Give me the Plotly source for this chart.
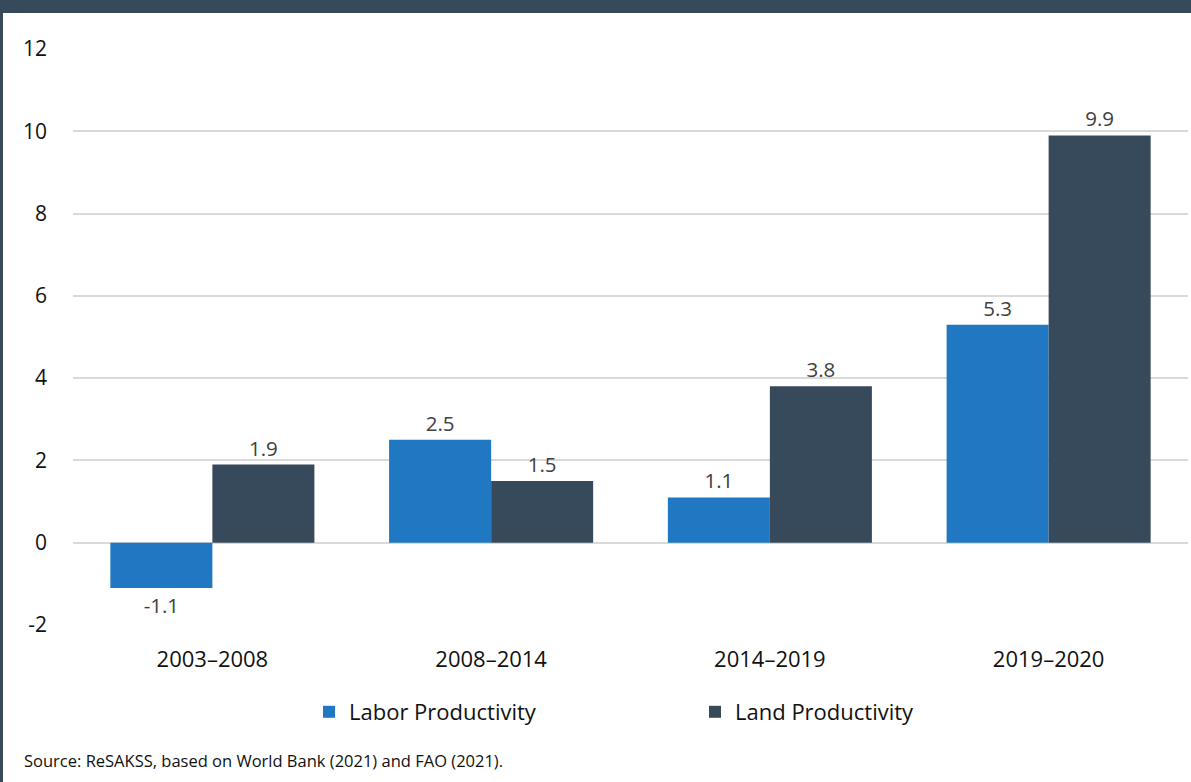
import plotly.graph_objects as go

# Growth rates by period (%)
periods = ["2003–2008", "2008–2014", "2014–2019", "2019–2020"]
labor_productivity = [-1.1, 2.5, 1.1, 5.3]
land_productivity = [1.9, 1.5, 3.8, 9.9]
y_ticks = [-2, 0, 2, 4, 6, 8, 10, 12]

BLUE = "#1f78c1"
DARK = "#374a5c"
FONT = "Open Sans, Noto Sans, sans-serif"

W, H = 1191, 782
ML, MR, MT, MB = 73, 3, 49, 157
PW, PH = W - ML - MR, H - MT - MB


def px_x(p):
    return (p - ML) / PW


def px_y(p):
    return (H - MB - p) / PH


fig = go.Figure()
fig.add_trace(go.Bar(
    name="Labor Productivity", x=periods, y=labor_productivity,
    marker=dict(color=BLUE, line=dict(width=0)),
    text=[f"{v:.1f}" for v in labor_productivity], textposition="outside",
    textfont=dict(size=20.5, color="#404040", family=FONT), cliponaxis=False,
))
fig.add_trace(go.Bar(
    name="Land Productivity", x=periods, y=land_productivity,
    marker=dict(color=DARK, line=dict(width=0)),
    text=[f"{v:.1f}" for v in land_productivity], textposition="outside",
    textfont=dict(size=20.5, color="#404040", family=FONT), cliponaxis=False,
))

fig.update_layout(
    width=W, height=H,
    margin=dict(l=ML, r=MR, t=MT, b=MB, autoexpand=False),
    paper_bgcolor="white", plot_bgcolor="white",
    font=dict(family=FONT, color="#111111"),
    barmode="group", bargap=0.268, bargroupgap=0,
    showlegend=True,
    legend=dict(
        orientation="h", x=px_x(309), xanchor="left", y=px_y(712), yanchor="middle",
        font=dict(size=22, color="#111111", family=FONT),
        entrywidth=341, entrywidthmode="pixels",
        bgcolor="rgba(0,0,0,0)", traceorder="normal",
    ),
    xaxis=dict(
        showgrid=False, zeroline=False, showline=False, ticks="",
        tickfont=dict(size=22, color="#111111", family=FONT),
        ticklabelstandoff=19,
    ),
    yaxis=dict(
        range=[-2, 12], tickvals=y_ticks, ticktext=[str(t) for t in y_ticks],
        showgrid=True, gridcolor="#d9d9d9", gridwidth=2,
        zeroline=False, showline=False, ticks="",
        tickfont=dict(size=21, color="#111111", family=FONT),
        ticklabelstandoff=25,
    ),
    shapes=[
        # dark band along the top edge
        dict(type="rect", xref="paper", yref="paper", layer="above",
             x0=px_x(0), x1=px_x(W), y0=px_y(13), y1=px_y(0),
             fillcolor=DARK, line=dict(width=0)),
        # thin dark rule on the left edge
        dict(type="rect", xref="paper", yref="paper", layer="above",
             x0=px_x(0), x1=px_x(3), y0=px_y(H), y1=px_y(0),
             fillcolor=DARK, line=dict(width=0)),
    ],
    annotations=[
        dict(text="Source: ReSAKSS, based on World Bank (2021) and FAO (2021).",
             xref="paper", yref="paper", x=px_x(22), y=px_y(760),
             xanchor="left", yanchor="middle", showarrow=False,
             font=dict(size=16.5, color="#111111", family=FONT)),
    ],
)

fig.write_html("out.html")
